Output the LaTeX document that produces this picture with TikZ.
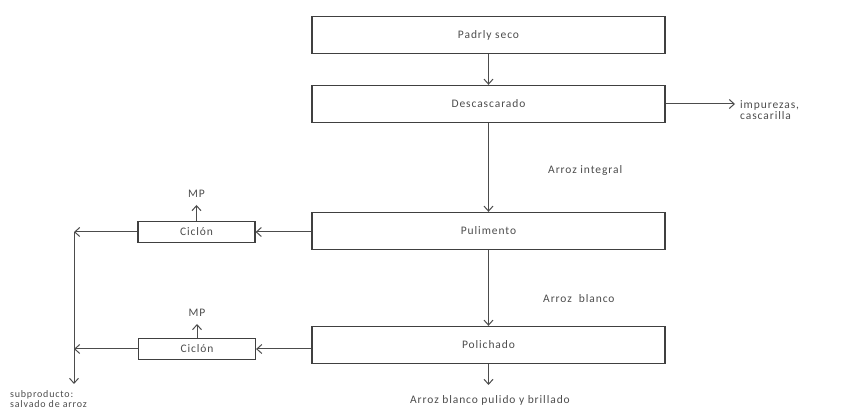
\documentclass[tikz,border=0pt]{standalone}
\usepackage{fontspec}
\setmainfont{Carlito}[LetterSpace=8]
\usetikzlibrary{arrows.meta}
\tikzset{
  flowline/.style={draw=black!70, line width=1pt},
  flowarrow/.style={flowline, -{Straight Barb[length=5pt,width=9pt]}},
  mainbox/.style={draw=black!75, line width=1.3pt, minimum width=353pt, minimum height=37pt, inner sep=0pt, text=black!70},
  cycbox/.style={draw=black!75, line width=1.2pt, minimum width=117pt, minimum height=21pt, inner sep=0pt, text=black!70},
  lbl/.style={text=black!70, inner sep=0pt}
}
\begin{document}
\begin{tikzpicture}[x=1pt,y=-1pt, every node/.append style={font=\fontsize{11.5}{11.5}\selectfont}]
\useasboundingbox (0,0) rectangle (841,411);

% Main process boxes
\node[mainbox] (paddy) at (488.5,35) {Padrly seco};
\node[mainbox] (desc) at (488.5,104) {Descascarado};
\node[mainbox] (pul) at (488.5,231) {Pulimento};
\node[mainbox] (pol) at (488.5,345) {Polichado};

% Cyclones
\node[cycbox] (cic1) at (196.5,232) {Ciclón};
\node[cycbox] (cic2) at (197,349) {Ciclón};

% Labels
\node[lbl, anchor=west, align=left] (impur) at (740,110) {impurezas,\\cascarilla};
\node[lbl, anchor=west] (integral) at (548,170) {Arroz integral};
\node[lbl, anchor=west] (blanco) at (543,299) {Arroz \ blanco};
\node[lbl] (mp1) at (196.5,194) {MP};
\node[lbl] (mp2) at (197,313) {MP};
\node[lbl] (final) at (490,400) {Arroz blanco pulido y brillado};
\node[lbl, anchor=south west, align=left, font=\fontsize{10}{9.5}\selectfont] (subp) at (10,407.5) {subproducto:\\salvado de arroz};

% Free ends
\coordinate (impurEnd) at (735,104);
\coordinate (colTop) at (74,232);
\coordinate (colBot) at (74,384);
\coordinate (mp1End) at (196.5,205);
\coordinate (mp2End) at (197,324);
\coordinate (finalEnd) at (488.5,385);

% Connectors
\draw[flowarrow] (paddy) -- (desc);
\draw[flowarrow] (desc) -- (pul);
\draw[flowarrow] (pul) -- (pol);
\draw[flowarrow] (pol) -- (finalEnd);
\draw[flowarrow] (desc.east) -- (impurEnd);
\draw[flowarrow] (pul.west |- cic1.east) -- (cic1.east);
\draw[flowarrow] (pol.west |- cic2.east) -- (cic2.east);
\draw[flowarrow] (cic1.north) -- (mp1End);
\draw[flowarrow] (cic2.north) -- (mp2End);
\draw[flowarrow] (cic1.west) -- (colTop);
\draw[flowarrow] (cic2.west) -- (colTop |- cic2.west);
\draw[flowarrow] (colTop) -- (colBot);
\end{tikzpicture}
\end{document}
